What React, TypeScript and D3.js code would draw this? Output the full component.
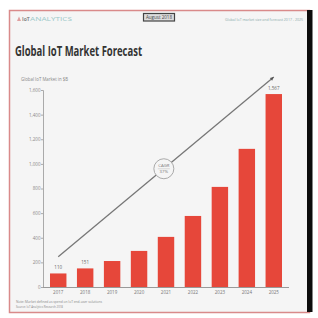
import { useRef, useEffect } from 'react';
import * as d3 from 'd3';

// Datos del gráfico (miles de millones de USD)
const YEARS = ['2017', '2018', '2019', '2020', '2021', '2022', '2023', '2024', '2025'];
const MARKET = [110, 151, 211, 293, 407, 577, 813, 1122, 1567];
const Y_TICKS = [0, 200, 400, 600, 800, 1000, 1200, 1400, 1600];
const BAR_LABELS: Record<string, string> = { '2017': '110', '2018': '151', '2025': '1,567' };
// Flecha de tendencia: inicio y fin (año, valor)
const TREND = [
  { year: '2017', value: 245 },
  { year: '2025', value: 1705 }
];
const CAGR = ['CAGR', '37%'];

const W = 318;
const H = 318;
const BAR_COLOR = '#e6473a';

export default function App() {
  const ref = useRef<SVGSVGElement>(null);

  useEffect(() => {
    document.documentElement.style.overflow = 'hidden';
    document.body.style.margin = '0';
    document.body.style.overflow = 'hidden';
    if (!ref.current) return;
    const svg = d3.select(ref.current);
    svg.selectAll('*').remove();

    const font = '"Open Sans", "DejaVu Sans", sans-serif';

    // marco
    svg
      .append('rect')
      .attr('x', 9.5)
      .attr('y', 10.5)
      .attr('width', 300)
      .attr('height', 302)
      .attr('fill', '#f5f5f5')
      .attr('stroke', '#d98a8a')
      .attr('stroke-width', 1.5);
    // borde oscuro a la derecha
    svg
      .append('rect')
      .attr('x', 307)
      .attr('y', 10)
      .attr('width', 5.5)
      .attr('height', 302)
      .attr('fill', '#0d0d0d');

    // cabecera
    svg
      .append('path')
      .attr('d', 'M17,21 L19,16.5 L21,21 Z')
      .attr('fill', '#e0a0a0');
    svg
      .append('text')
      .attr('x', 22)
      .attr('y', 21)
      .attr('font-family', font)
      .attr('font-size', 5)
      .attr('font-weight', 700)
      .attr('fill', '#888')
      .text('IoT');
    svg
      .append('text')
      .attr('x', 30)
      .attr('y', 21)
      .attr('font-family', font)
      .attr('font-size', 5)
      .attr('fill', '#9cc9c9')
      .attr('textLength', 42)
      .attr('lengthAdjust', 'spacingAndGlyphs')
      .text('ANALYTICS');

    svg
      .append('rect')
      .attr('x', 143.5)
      .attr('y', 13.5)
      .attr('width', 31)
      .attr('height', 7.5)
      .attr('fill', '#ddd')
      .attr('stroke', '#444')
      .attr('stroke-width', 1.2);
    svg
      .append('text')
      .attr('x', 159)
      .attr('y', 19.2)
      .attr('text-anchor', 'middle')
      .attr('font-family', font)
      .attr('font-size', 4.5)
      .attr('fill', '#444')
      .text('August 2018');

    svg
      .append('text')
      .attr('x', 303)
      .attr('y', 21)
      .attr('text-anchor', 'end')
      .attr('font-family', font)
      .attr('font-size', 3.6)
      .attr('fill', '#8aa9a9')
      .attr('textLength', 78)
      .attr('lengthAdjust', 'spacingAndGlyphs')
      .text('Global IoT market size and forecast 2017 - 2025');

    svg
      .append('text')
      .attr('x', 15)
      .attr('y', 56)
      .attr('font-family', font)
      .attr('font-size', 14)
      .attr('font-weight', 700)
      .attr('fill', '#333')
      .attr('textLength', 127)
      .attr('lengthAdjust', 'spacingAndGlyphs')
      .text('Global IoT Market Forecast');

    svg
      .append('text')
      .attr('x', 21)
      .attr('y', 81)
      .attr('font-family', font)
      .attr('font-size', 4.5)
      .attr('fill', '#888')
      .attr('textLength', 47)
      .attr('lengthAdjust', 'spacingAndGlyphs')
      .text('Global IoT Market in $B');

    // escalas
    const x = d3.scaleBand<string>().domain(YEARS).range([43, 289]).paddingInner(0.39).paddingOuter(0.26);
    const y = d3.scaleLinear().domain([0, 1600]).range([287, 90]);

    // eje Y
    const yAxis = svg
      .append('g')
      .attr('transform', 'translate(43,0)')
      .call(
        d3
          .axisLeft(y)
          .tickValues(Y_TICKS)
          .tickSize(2)
          .tickFormat((d) => d3.format(',')(d as number))
      );
    yAxis.select('.domain').attr('stroke', '#aaa');
    yAxis.selectAll('.tick line').attr('stroke', '#aaa');
    yAxis
      .selectAll('.tick text')
      .attr('font-family', font)
      .attr('font-size', 4.5)
      .attr('fill', '#888')
      .attr('x', -2.5);

    // barras
    svg
      .append('g')
      .selectAll('rect')
      .data(YEARS)
      .join('rect')
      .attr('x', (d) => x(d) ?? 0)
      .attr('width', x.bandwidth())
      .attr('y', (_d, i) => y(MARKET[i]))
      .attr('height', (_d, i) => y(0) - y(MARKET[i]))
      .attr('fill', BAR_COLOR);

    // eje X
    const xAxis = svg
      .append('g')
      .attr('transform', `translate(0,${y(0)})`)
      .call(d3.axisBottom(x).tickSize(0).tickPadding(4));
    xAxis.select('.domain').attr('stroke', '#999').attr('d', `M43,0.5H289`);
    xAxis
      .selectAll('.tick text')
      .attr('font-family', font)
      .attr('font-size', 4.5)
      .attr('fill', '#777');

    // etiquetas de valores
    svg
      .append('g')
      .selectAll('text')
      .data(YEARS.filter((d) => BAR_LABELS[d]))
      .join('text')
      .attr('x', (d) => (x(d) ?? 0) + x.bandwidth() / 2)
      .attr('y', (d) => y(MARKET[YEARS.indexOf(d)]) - 4)
      .attr('text-anchor', 'middle')
      .attr('font-family', font)
      .attr('font-size', 4.5)
      .attr('fill', '#666')
      .text((d) => BAR_LABELS[d]);

    // línea de tendencia
    const pts = TREND.map((t) => [(x(t.year) ?? 0) + x.bandwidth() / 2, y(t.value)] as [number, number]);
    svg
      .append('path')
      .attr('d', d3.line()(pts))
      .attr('stroke', '#777')
      .attr('stroke-width', 1.3)
      .attr('fill', 'none');
    const [x1, y1] = pts[1];
    const [x0, y0] = pts[0];
    const ang = Math.atan2(y1 - y0, x1 - x0);
    const ah = 4;
    svg
      .append('path')
      .attr(
        'd',
        `M${x1},${y1} L${x1 - ah * Math.cos(ang - 0.45)},${y1 - ah * Math.sin(ang - 0.45)} L${x1 - ah * Math.cos(ang + 0.45)},${y1 - ah * Math.sin(ang + 0.45)} Z`
      )
      .attr('fill', '#555');

    // círculo CAGR
    const t = 0.49;
    const cx = x0 + (x1 - x0) * t;
    const cy = y0 + (y1 - y0) * t;
    svg
      .append('circle')
      .attr('cx', cx)
      .attr('cy', cy)
      .attr('r', 10)
      .attr('fill', '#f5f5f5')
      .attr('stroke', '#aaa')
      .attr('stroke-width', 1);
    svg
      .append('line')
      .attr('x1', cx - 6)
      .attr('x2', cx + 6)
      .attr('y1', cy)
      .attr('y2', cy)
      .attr('stroke', '#bbb')
      .attr('stroke-width', 0.5);
    svg
      .append('g')
      .selectAll('text')
      .data(CAGR)
      .join('text')
      .attr('x', cx)
      .attr('y', (_d, i) => cy - 1.5 + i * 6)
      .attr('text-anchor', 'middle')
      .attr('font-family', font)
      .attr('font-size', 4.3)
      .attr('fill', '#777')
      .text((d) => d);

    // notas
    const notes = [
      'Note: Market defined as spend on IoT end-user solutions',
      'Source: IoT Analytics Research 2018'
    ];
    svg
      .append('g')
      .selectAll('text')
      .data(notes)
      .join('text')
      .attr('x', 16)
      .attr('y', (_d, i) => 303 + i * 4.5)
      .attr('font-family', font)
      .attr('font-size', 3.5)
      .attr('fill', '#888')
      .attr('textLength', (_d, i) => (i === 0 ? 86 : 47))
      .attr('lengthAdjust', 'spacingAndGlyphs')
      .text((d) => d);
  }, []);

  return (
    <svg
      ref={ref}
      width={W}
      height={H}
      style={{ position: 'absolute', left: 0, top: 0, background: '#fff', display: 'block' }}
    ></svg>
  );
}
